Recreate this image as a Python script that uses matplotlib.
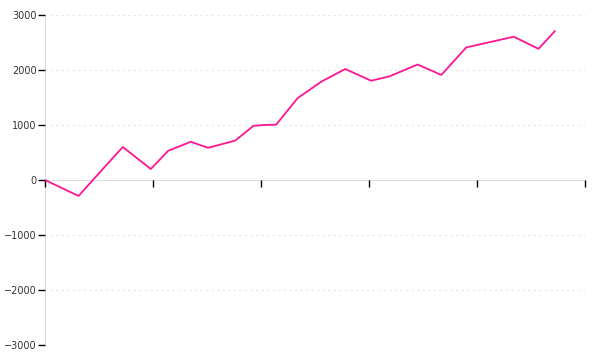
import numpy as np
import matplotlib
matplotlib.use("Agg")
import matplotlib.pyplot as plt

# values (x in arbitrary units, 10 per x tick)
x = [0, 3.1, 7.2, 9.8, 11.4, 13.5, 15.1, 17.6, 19.3, 20.3, 21.4, 23.4,
     25.6, 27.8, 30.2, 31.9, 34.5, 36.7, 39.0, 43.4, 45.7, 47.2]
y = [0, -290, 600, 200, 530, 695, 585, 715, 985, 1000, 1005, 1490,
     1790, 2018, 1805, 1885, 2100, 1910, 2410, 2605, 2385, 2705]
x_ticks = [0, 10, 20, 30, 40, 50]
y_ticks = [-3000, -2000, -1000, 0, 1000, 2000, 3000]

fig = plt.figure(figsize=(6, 3.6), dpi=100)
ax = fig.add_axes([45 / 600, 15 / 360, 540 / 600, 330 / 360])

for v in y_ticks:
    if v != 0:
        ax.axhline(v, xmin=0.01, color="#e6e6e6", lw=0.8,
                   linestyle=(0, (2, 3)), zorder=0)

ax.plot(x, y, color="#ff1493", lw=1.3, zorder=3)

ax.set_xlim(0, 50)
ax.set_ylim(-3000, 3000)
ax.set_xticks(x_ticks)
ax.set_xticklabels([])
ax.set_yticks(y_ticks)
ax.set_yticklabels([str(v).replace("-", "\u2212") for v in y_ticks])

for s in ["top", "right"]:
    ax.spines[s].set_visible(False)
ax.spines["left"].set_color("#dddddd")
ax.spines["bottom"].set_color("#dddddd")
ax.spines["left"].set_zorder(1)
ax.spines["bottom"].set_zorder(1)
ax.spines["bottom"].set_position(("data", 0))

ax.tick_params(axis="x", direction="out", length=5, width=1, color="black")
ax.tick_params(axis="y", direction="out", length=5, width=1, color="black",
               labelsize=7, labelcolor="#333333", pad=1)

fig.savefig("out.png", dpi=100)
